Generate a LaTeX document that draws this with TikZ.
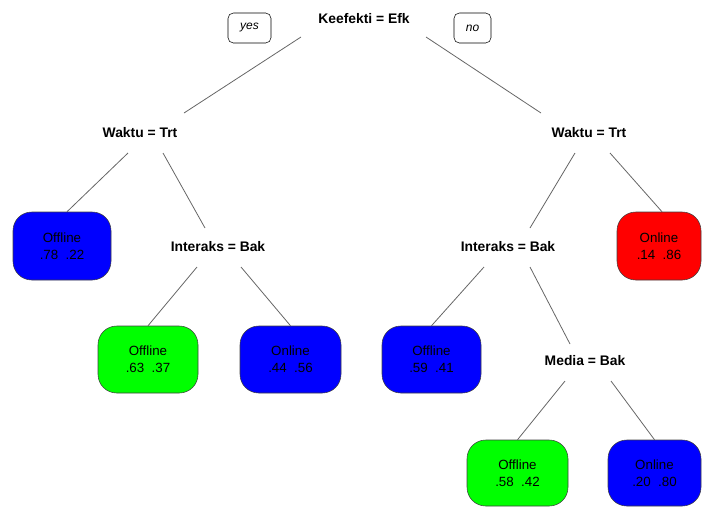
\documentclass[tikz,border=0pt]{standalone}
\usepackage{fontspec}
\setmainfont{Liberation Sans}
\usetikzlibrary{calc}
\definecolor{leafblue}{RGB}{0,0,255}
\definecolor{leafgreen}{RGB}{0,255,0}
\definecolor{leafred}{RGB}{255,0,0}
\colorlet{brgray}{black!60}

\begin{document}
\begin{tikzpicture}[x=0.75pt,y=-0.75pt,
    split/.style={inner sep=0pt,font=\fontsize{10.4}{12}\selectfont\bfseries},
    leaf/.style={draw=black!75,rounded corners=14pt,minimum height=51pt,
        inner sep=0pt,align=center,font=\fontsize{10}{12.75}\selectfont,
        execute at begin node={\rule{0pt}{10.5pt}}},
    yesno/.style={draw,rounded corners=4pt,minimum height=22.5pt,inner sep=0pt,
        font=\fontsize{9}{10}\selectfont\itshape},
    br/.style={draw=brgray,line width=0.6pt}]
    \useasboundingbox (0,0) rectangle (702,508);

    % splits
    \node [split] (root) at (364,19) {Keefekti = Efk};
    \node [split] (waktuL) at (140,133) {Waktu = Trt};
    \node [split] (waktuR) at (589,133) {Waktu = Trt};
    \node [split] (interL) at (218,247) {Interaks = Bak};
    \node [split] (interR) at (508,247) {Interaks = Bak};
    \node [split] (media) at (585,361) {Media = Bak};

    \node [yesno,minimum width=32.25pt] (yes) at (249.5,28) {yes};
    \node [yesno,minimum width=27.75pt] (no) at (472.5,28) {no};

    % leaves
    \node [leaf,fill=leafblue,minimum width=73.5pt] (leafA) at (62,246) {Offline\\.78~~.22};
    \node [leaf,fill=leafgreen,minimum width=75pt,minimum height=50.25pt] (leafB) at (148,359.5) {Offline\\.63~~.37};
    \node [leaf,fill=leafblue,minimum width=75.75pt,minimum height=50.25pt] (leafC) at (290.5,359.5) {Online\\.44~~.56};
    \node [leaf,fill=leafblue,minimum width=74.25pt,minimum height=50.25pt] (leafD) at (431.5,359.5) {Offline\\.59~~.41};
    \node [leaf,fill=leafred,minimum width=63pt] (leafE) at (659,246) {Online\\.14~~.86};
    \node [leaf,fill=leafgreen,minimum width=75.75pt,minimum height=49.5pt] (leafF) at (517.5,473) {Offline\\.58~~.42};
    \node [leaf,fill=leafblue,minimum width=69.75pt,minimum height=49.5pt] (leafG) at (654.5,473) {Online\\.20~~.80};

    % branches
    \draw [br] ($(root)+(-63,18)$) -- ($(waktuL)+(44,-20)$);
    \draw [br] ($(root)+(62,18)$) -- ($(waktuR)+(-48,-20)$);
    \draw [br] ($(waktuL)+(-12,20)$) -- ($(leafA.north)+(5,0)$);
    \draw [br] ($(waktuL)+(23,20)$) -- ($(interL)+(-13,-19)$);
    \draw [br] ($(interL)+(-21,20)$) -- (leafB.north);
    \draw [br] ($(interL)+(23,20)$) -- (leafC.north);
    \draw [br] ($(waktuR)+(-14,20)$) -- ($(interR)+(22,-19)$);
    \draw [br] ($(waktuR)+(21,20)$) -- ($(leafE.north)+(3,0)$);
    \draw [br] ($(interR)+(-24,20)$) -- (leafD.north);
    \draw [br] ($(interR)+(22,20)$) -- ($(media)+(-15,-17)$);
    \draw [br] ($(media)+(-20,20)$) -- (leafF.north);
    \draw [br] ($(media)+(26,20)$) -- (leafG.north);
\end{tikzpicture}
\end{document}
